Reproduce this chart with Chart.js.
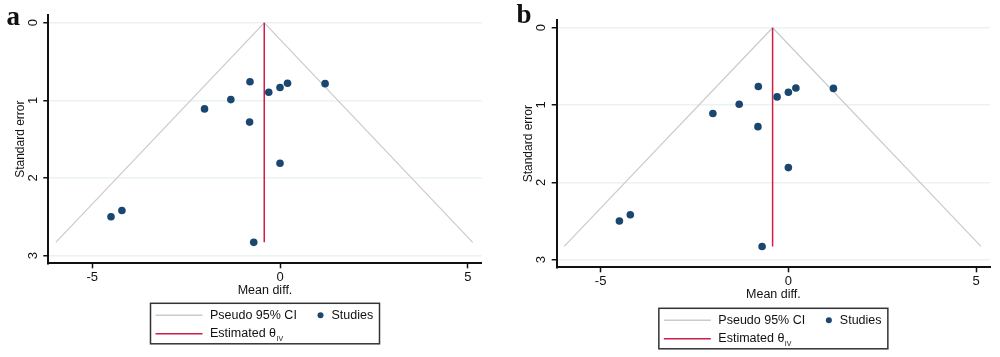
<!DOCTYPE html>
<html>
<head>
<meta charset="utf-8">
<script src="https://cdn.jsdelivr.net/npm/chart.js@4.4.1/dist/chart.umd.min.js"></script>
<style>
  html, body { margin: 0; padding: 0; background: #fff; }
  #wrap { width: 1000px; height: 357px; position: relative; overflow: hidden; }
  canvas { position: absolute; top: 0; }
  #ca { left: 0; }
  #cb { left: 500px; }
</style>
</head>
<body>
<div id="wrap">
  <canvas id="ca" width="500" height="357"></canvas>
  <canvas id="cb" width="500" height="357"></canvas>
</div>
<script>
// ---- Data ----
const panelLabels = ['a', 'b'];
const studyMeanDiff = [-0.80, -0.30, 0.00, 0.20, 1.20, -1.31, -2.01, -0.81, 0.00, -4.21, -4.50, -0.70];
const studySE       = [0.76, 0.895, 0.835, 0.78, 0.785, 0.99, 1.11, 1.28, 1.81, 2.42, 2.50, 2.83];
const ciMeanDiff = [-5.97, -0.42, 5.13];
const ciSE       = [2.83, 0.00, 2.83];
const estMeanDiff = [-0.42, -0.42];
const estSE       = [0.00, 2.83];
const xTicks = [-5, 0, 5];
const yTicks = [0, 1, 2, 3];
const xTitle = 'Mean diff.';
const yTitle = 'Standard error';
const legendCI = 'Pseudo 95% CI';
const legendStudies = 'Studies';
const legendEst = 'Estimated \u03b8';
const legendEstSub = 'IV';

const NAVY = '#1a476f';
const RED = '#d01c48';
const GRAY = '#cbcbcb';
const FONT = '"Liberation Sans", Arial, Helvetica, sans-serif';

function pts(xs, ys) { return xs.map((x, i) => ({ x: x, y: ys[i] })); }

function makePanel(canvasId, letter, lay) {
  const decor = {
    id: 'decor' + letter,
    afterDraw(chart) {
      const ctx = chart.ctx;
      const ca = chart.chartArea;
      const ys = chart.scales.y;
      ctx.save();
      ctx.fillStyle = '#111';
      // rotated y tick labels
      ctx.font = '13px ' + FONT;
      ctx.textAlign = 'center';
      ctx.textBaseline = 'middle';
      ys.ticks.forEach(t => {
        const py = ys.getPixelForValue(t.value);
        ctx.save();
        ctx.translate(ca.left - 15, py);
        ctx.rotate(-Math.PI / 2);
        ctx.fillText(String(t.value), 0, 0);
        ctx.restore();
      });
      // y title
      ctx.save();
      ctx.font = '12px ' + FONT;
      ctx.translate(ca.left - 28, (ca.top + ca.bottom) / 2);
      ctx.rotate(-Math.PI / 2);
      ctx.fillText(yTitle, 0, 0);
      ctx.restore();
      // x title
      const cx = (ca.left + ca.right) / 2;
      ctx.font = '12.5px ' + FONT;
      ctx.fillText(xTitle, cx, ca.bottom + 27);
      // panel letter
      ctx.font = 'bold 27px "Liberation Serif", "Times New Roman", serif';
      ctx.textAlign = 'left';
      ctx.textBaseline = 'alphabetic';
      ctx.fillText(letter, lay.letterX, lay.letterY);
      // legend
      const ds = chart.data.datasets;
      const dCI = ds.find(d => d.label === legendCI);
      const dEst = ds.find(d => d.label === legendEst);
      const dSt = ds.find(d => d.label === legendStudies);
      const bw = 229, bh = 40.5;
      const bx = cx - bw / 2, by = ca.bottom + lay.legendGap;
      ctx.strokeStyle = '#333';
      ctx.lineWidth = 1.5;
      ctx.strokeRect(bx, by, bw, bh);
      const r1 = by + 12, r2 = by + 30.5;
      ctx.lineWidth = 1.5;
      ctx.strokeStyle = dCI.borderColor;
      ctx.beginPath(); ctx.moveTo(bx + 5, r1); ctx.lineTo(bx + 52, r1); ctx.stroke();
      ctx.strokeStyle = dEst.borderColor;
      ctx.beginPath(); ctx.moveTo(bx + 5, r2); ctx.lineTo(bx + 52, r2); ctx.stroke();
      ctx.fillStyle = dSt.backgroundColor;
      ctx.beginPath(); ctx.arc(bx + 170, r1, 3, 0, Math.PI * 2); ctx.fill();
      ctx.fillStyle = '#111';
      ctx.font = '12.5px ' + FONT;
      ctx.textBaseline = 'middle';
      ctx.fillText(dCI.label, bx + 59.5, r1);
      ctx.fillText(dSt.label, bx + 181, r1);
      ctx.fillText(dEst.label, bx + 59.5, r2);
      const w = ctx.measureText(dEst.label).width;
      ctx.font = '7px ' + FONT;
      ctx.fillText(legendEstSub, bx + 59.5 + w + 0.5, r2 + 5);
      ctx.restore();
    }
  };

  return new Chart(document.getElementById(canvasId), {
    type: 'scatter',
    data: {
      datasets: [
        {
          label: legendStudies,
          data: pts(studyMeanDiff, studySE),
          backgroundColor: NAVY,
          borderColor: NAVY,
          pointRadius: 3.8,
          pointBorderWidth: 0,
          showLine: false,
          order: 1
        },
        {
          label: legendEst,
          data: pts(estMeanDiff, estSE),
          borderColor: RED,
          backgroundColor: RED,
          borderWidth: 1.5,
          pointRadius: 0,
          showLine: true,
          order: 2
        },
        {
          label: legendCI,
          data: pts(ciMeanDiff, ciSE),
          borderColor: GRAY,
          backgroundColor: GRAY,
          borderWidth: 1.2,
          pointRadius: 0,
          showLine: true,
          order: 3
        }
      ]
    },
    options: {
      responsive: false,
      animation: false,
      events: [],
      layout: { padding: { top: lay.top, right: lay.right, left: 0, bottom: 0 } },
      plugins: { legend: { display: false }, tooltip: { enabled: false }, title: { display: false } },
      scales: {
        x: {
          type: 'linear',
          position: 'bottom',
          min: -6.17, max: 5.37,
          afterBuildTicks: s => { s.ticks = xTicks.map(v => ({ value: v })); },
          afterFit: s => { s.height = lay.xh; },
          grid: { drawOnChartArea: false, drawTicks: true, tickLength: 5, tickColor: '#111', tickWidth: 1.5 },
          border: { color: '#111', width: 2 },
          ticks: { color: '#111', font: { family: FONT, size: 13 }, padding: 1, maxRotation: 0, minRotation: 0 }
        },
        y: {
          type: 'linear',
          position: 'left',
          reverse: true,
          min: -0.1, max: 3.1,
          afterBuildTicks: s => { s.ticks = yTicks.map(v => ({ value: v })); },
          afterFit: s => { s.width = lay.yw; },
          grid: { color: '#eaf2f2', lineWidth: 1.5, drawTicks: true, tickLength: 5, tickColor: '#111', tickWidth: 1.5 },
          border: { color: '#111', width: 2 },
          ticks: { display: false }
        }
      }
    },
    plugins: [decor]
  });
}

makePanel('ca', panelLabels[0], { top: 15, right: 18.3, yw: 48.3, xh: 93.7, letterX: 6.5, letterY: 25, legendGap: 40 });
makePanel('cb', panelLabels[1], { top: 20, right: 10, yw: 56.7, xh: 89.7, letterX: 16.5, letterY: 23.3, legendGap: 41 });
</script>
</body>
</html>
